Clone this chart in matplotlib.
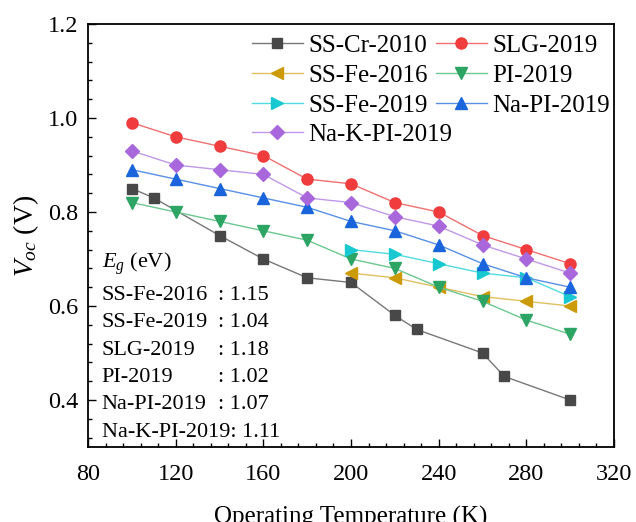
import matplotlib
matplotlib.use("Agg")
import matplotlib.pyplot as plt
from matplotlib.ticker import MultipleLocator

plt.rcParams['font.family'] = ['Liberation Serif', 'DejaVu Serif']
plt.rcParams['mathtext.fontset'] = 'custom'
plt.rcParams['mathtext.rm'] = 'Liberation Serif'
plt.rcParams['mathtext.it'] = 'Liberation Serif:italic'

# data
x_cr2010 = [100, 110, 140, 160, 180, 200, 220, 230, 260, 270, 300]
y_cr2010 = [0.85, 0.83, 0.75, 0.70, 0.66, 0.65, 0.58, 0.55, 0.50, 0.45, 0.40]

x_full = [100, 120, 140, 160, 180, 200, 220, 240, 260, 280, 300]
y_slg2019 = [0.99, 0.96, 0.94, 0.92, 0.87, 0.86, 0.82, 0.80, 0.75, 0.72, 0.69]
y_pi2019 = [0.82, 0.80, 0.78, 0.76, 0.74, 0.70, 0.68, 0.64, 0.61, 0.57, 0.54]
y_napi2019 = [0.89, 0.87, 0.85, 0.83, 0.81, 0.78, 0.76, 0.73, 0.69, 0.66, 0.64]
y_nakpi2019 = [0.93, 0.90, 0.89, 0.88, 0.83, 0.82, 0.79, 0.77, 0.73, 0.70, 0.67]

x_fe = [200, 220, 240, 260, 280, 300]
y_fe2016 = [0.67, 0.66, 0.64, 0.62, 0.61, 0.60]
y_fe2019 = [0.72, 0.71, 0.69, 0.67, 0.66, 0.62]

eg_names = ["SS-Fe-2016", "SS-Fe-2019", "SLG-2019", "PI-2019", "Na-PI-2019"]
eg_values = ["1.15", "1.04", "1.18", "1.02", "1.07"]
eg_last = "Na-K-PI-2019: 1.11"

fig = plt.figure(figsize=(6.36, 5.22), dpi=100)
ax = fig.add_axes([0.1384, 0.1437, 0.827, 0.8103])

# (x, y, label, marker, marker colour, line colour)
series = [
    (x_cr2010, y_cr2010, "SS-Cr-2010", "s", "#484848", "#777777"),
    (x_full, y_slg2019, "SLG-2019", "o", "#f03c3c", "#f07070"),
    (x_fe, y_fe2016, "SS-Fe-2016", "<", "#cc9a06", "#e0c060"),
    (x_full, y_pi2019, "PI-2019", "v", "#2ca464", "#6cc890"),
    (x_fe, y_fe2019, "SS-Fe-2019", ">", "#18c8d0", "#50dce0"),
    (x_full, y_napi2019, "Na-PI-2019", "^", "#1a64dc", "#5890e8"),
    (x_full, y_nakpi2019, "Na-K-PI-2019", "D", "#a868dc", "#c098e8"),
]
handles = {}
for xs, ys, lab, mk, mc, lc in series:
    ms = {"s": 7, "D": 7, "o": 8}.get(mk, 8.5)
    h, = ax.plot(xs, ys, color=lc, lw=1.0, marker=mk, ms=ms,
                 mfc=mc, mec=mc, label=lab)
    handles[lab] = h

# legend: 3 full rows in two columns, the last entry on its own row
leg_kw = dict(frameon=False, loc="upper left", fontsize=18,
              handlelength=2.07, columnspacing=0.31, handletextpad=0.2,
              labelspacing=0.30, borderaxespad=0.0, borderpad=0.4)
order = ["SS-Cr-2010", "SS-Fe-2016", "SS-Fe-2019",
         "SLG-2019", "PI-2019", "Na-PI-2019"]
leg1 = ax.legend([handles[k] for k in order], order, ncol=2,
                 bbox_to_anchor=(0.292, 1.0), **leg_kw)
ax.add_artist(leg1)
ax.legend([handles["Na-K-PI-2019"]], ["Na-K-PI-2019"],
          bbox_to_anchor=(0.292, 0.788), **leg_kw)

ax.set_xlim(80, 320)
ax.set_ylim(0.3, 1.2)
ax.xaxis.set_major_locator(MultipleLocator(40))
ax.xaxis.set_minor_locator(MultipleLocator(8))
ax.yaxis.set_major_locator(MultipleLocator(0.2))
ax.yaxis.set_minor_locator(MultipleLocator(0.04))
ax.tick_params(which="both", direction="in", top=False, right=False,
               labelsize=17.5, width=1.0)
ax.tick_params(which="major", length=6)
ax.tick_params(which="minor", length=3)
ax.tick_params(axis="x", which="major", pad=12)
ax.tick_params(axis="y", which="major", pad=7)
for s in ax.spines.values():
    s.set_linewidth(1.3)

ax.set_xlabel("Operating Temperature (K)", fontsize=18, labelpad=15)
ax.set_ylabel(r"$V_{oc}$ (V)", fontsize=20, labelpad=5)

# band gap annotation
tx = dict(transform=ax.transData, fontsize=16, va="baseline", ha="left")
ax.text(86.25, 0.681, r"$E_g$ (eV)", **tx)
y0 = 0.6128
dy = 0.0581
for i, (nm, v) in enumerate(zip(eg_names, eg_values)):
    ax.text(86.25, y0 - i * dy, nm, **tx)
    ax.text(139.5, y0 - i * dy, ": " + v, **tx)
ax.text(86.25, y0 - 5 * dy, eg_last, **tx)

fig.savefig("out.png", dpi=100)
